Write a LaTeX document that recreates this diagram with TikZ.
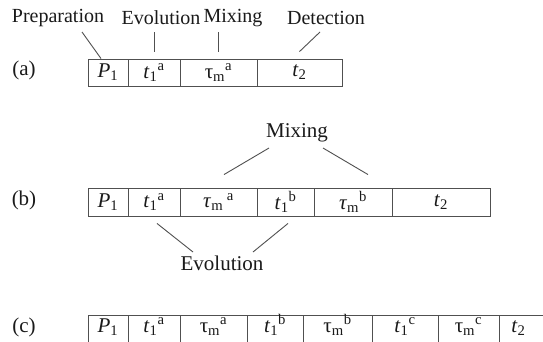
\documentclass[tikz,border=0pt]{standalone}
\usepackage{fontspec}
\setmainfont{Liberation Serif}
\definecolor{linec}{HTML}{505050}
\definecolor{txt}{HTML}{1A1A1A}
\newcommand\mycell[6]{%
  \node[cell, minimum width={(#3-#2)*1pt}, minimum height=#5] (#1) at ({(#2+#3)/2},#4) {#6};}
\tikzset{
  cell/.style={draw=linec, line width=0.9pt, inner sep=0pt, text=txt},
  lowcell/.style={cell, text height=13pt, text depth=7pt},
  lab/.style={inner sep=0pt, text=txt},
  toplab/.style={lab, font=\fontsize{20}{22}\selectfont},
  conn/.style={draw=linec, line width=0.9pt},
}
\newcommand\lowcell[5]{%
  \node[lowcell, minimum width={(#3-#2)*1pt}, minimum height=28pt] (#1) at ({(#2+#3)/2},#4) {#5};}
\begin{document}
\begin{tikzpicture}[x=1pt,y=-1pt,font=\fontsize{21}{24}\selectfont]
\clip (0,0) rectangle (543,341);
\fill[white] (0,0) rectangle (543,341);

% row (a)
\node[lab] (la) at (24,70) {(a)};
\mycell{a1}{88}{128}{72.5}{27pt}{\textit{P}\textsubscript{1}}
\mycell{a2}{128}{180}{72.5}{27pt}{\textit{t}\textsubscript{1}\textsuperscript{a}}
\mycell{a3}{180}{257}{72.5}{27pt}{τ\textsubscript{m}\textsuperscript{a}}
\mycell{a4}{257}{342}{72.5}{27pt}{\textit{t}\textsubscript{2}}

\node[toplab] (prep) at (58,18) {Preparation};
\node[toplab] (evoa) at (161,18) {Evolution};
\node[toplab] (mixa) at (233,18) {Mixing};
\node[toplab] (det) at (326,18) {Detection};

\coordinate (pstart) at (82,32);
\coordinate (estart) at (154,32);
\coordinate (mstart) at (218.5,32);
\coordinate (dstart) at (320,32);
\draw[conn] (pstart) -- ([xshift=-7pt]a1.north);
\draw[conn] (estart) -- ([yshift=7pt]a2.north);
\draw[conn] (mstart) -- ([yshift=7pt]a3.north);
\draw[conn] (dstart) -- ([yshift=7pt]a4.north);

% row (b)
\node[lab] (lb) at (24,200) {(b)};
\mycell{b1}{88}{128}{202}{28pt}{\textit{P}\textsubscript{1}}
\mycell{b2}{128}{180}{202}{28pt}{\textit{t}\textsubscript{1}\textsuperscript{a}}
\mycell{b3}{180}{257}{202}{28pt}{\textit{τ}\textsubscript{m}\,\textsuperscript{a}}
\mycell{b4}{257}{314}{202}{28pt}{\textit{t}\textsubscript{1}\textsuperscript{b}}
\mycell{b5}{314}{392}{202}{28pt}{\textit{τ}\textsubscript{m}\textsuperscript{b}}
\mycell{b6}{392}{490}{202}{28pt}{\textit{t}\textsubscript{2}}

\node[lab] (mixb) at (297,133) {Mixing};
\coordinate (mb1) at (269,148);
\coordinate (mb2) at (323,148);
\draw[conn] (mb1) -- ([xshift=5.5pt,yshift=13pt]b3.north);
\draw[conn] (mb2) -- ([xshift=15pt,yshift=13pt]b5.north);

\node[lab] (evob) at (222,263) {Evolution};
\coordinate (eb1) at (193,252);
\coordinate (eb2) at (253,252);
\draw[conn] ([xshift=3pt,yshift=-7pt]b2.south) -- (eb1);
\draw[conn] ([xshift=2.5pt,yshift=-7pt]b4.south) -- (eb2);

% row (c)
\node[lab] (lc) at (24,327) {(c)};
\lowcell{c1}{88}{128}{329}{\textit{P}\textsubscript{1}}
\lowcell{c2}{128}{180}{329}{\textit{t}\textsubscript{1}\textsuperscript{a}}
\lowcell{c3}{180}{247}{329}{τ\textsubscript{m}\textsuperscript{a}}
\lowcell{c4}{247}{303}{329}{\textit{t}\textsubscript{1}\textsuperscript{b}}
\lowcell{c5}{303}{372}{329}{τ\textsubscript{m}\textsuperscript{b}}
\lowcell{c6}{372}{438}{329}{\textit{t}\textsubscript{1}\textsuperscript{c}}
\lowcell{c7}{438}{499}{329}{τ\textsubscript{m}\textsuperscript{c}}
\lowcell{c8}{499}{560}{329}{\hspace*{-22pt}\textit{t}\textsubscript{2}}
\end{tikzpicture}
\end{document}
